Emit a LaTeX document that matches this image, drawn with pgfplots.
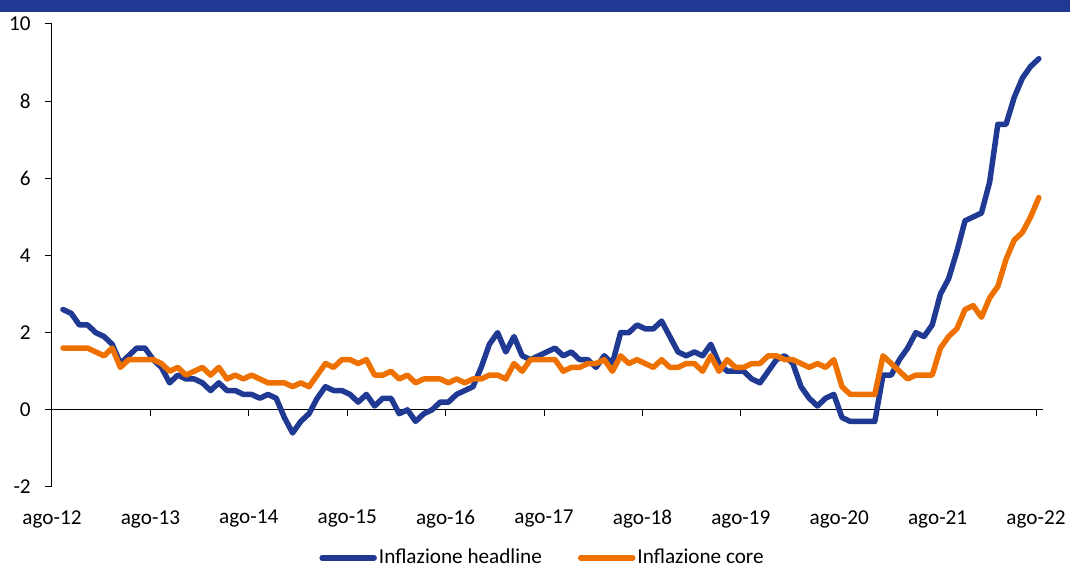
\documentclass[border=0pt]{standalone}
\usepackage{pgfplots}
\pgfplotsset{compat=1.18}
\usepackage{pgfplotstable}
\usepackage{fontspec}
\setmainfont{Carlito}
\definecolor{hblue}{RGB}{32,57,146}
\definecolor{corange}{RGB}{238,113,0}
\newcommand\lblfont{\fontsize{21.2bp}{25bp}\selectfont}

\pgfplotstableread{
i h c
0 2.6 1.6
1 2.5 1.6
2 2.2 1.6
3 2.2 1.6
4 2.0 1.5
5 1.9 1.4
6 1.7 1.6
7 1.2 1.1
8 1.4 1.3
9 1.6 1.3
10 1.6 1.3
11 1.3 1.3
12 1.1 1.2
13 0.7 1.0
14 0.9 1.1
15 0.8 0.9
16 0.8 1.0
17 0.7 1.1
18 0.5 0.9
19 0.7 1.1
20 0.5 0.8
21 0.5 0.9
22 0.4 0.8
23 0.4 0.9
24 0.3 0.8
25 0.4 0.7
26 0.3 0.7
27 -0.2 0.7
28 -0.6 0.6
29 -0.3 0.7
30 -0.1 0.6
31 0.3 0.9
32 0.6 1.2
33 0.5 1.1
34 0.5 1.3
35 0.4 1.3
36 0.2 1.2
37 0.4 1.3
38 0.1 0.9
39 0.3 0.9
40 0.3 1.0
41 -0.1 0.8
42 0.0 0.9
43 -0.3 0.7
44 -0.1 0.8
45 0.0 0.8
46 0.2 0.8
47 0.2 0.7
48 0.4 0.8
49 0.5 0.7
50 0.6 0.8
51 1.1 0.8
52 1.7 0.9
53 2.0 0.9
54 1.5 0.8
55 1.9 1.2
56 1.4 1.0
57 1.3 1.3
58 1.4 1.3
59 1.5 1.3
60 1.6 1.3
61 1.4 1.0
62 1.5 1.1
63 1.3 1.1
64 1.3 1.2
65 1.1 1.2
66 1.4 1.3
67 1.2 1.0
68 2.0 1.4
69 2.0 1.2
70 2.2 1.3
71 2.1 1.2
72 2.1 1.1
73 2.3 1.3
74 1.9 1.1
75 1.5 1.1
76 1.4 1.2
77 1.5 1.2
78 1.4 1.0
79 1.7 1.4
80 1.2 1.0
81 1.0 1.3
82 1.0 1.1
83 1.0 1.1
84 0.8 1.2
85 0.7 1.2
86 1.0 1.4
87 1.3 1.4
88 1.4 1.3
89 1.2 1.3
90 0.6 1.2
91 0.3 1.1
92 0.1 1.2
93 0.3 1.1
94 0.4 1.3
95 -0.2 0.6
96 -0.3 0.4
97 -0.3 0.4
98 -0.3 0.4
99 -0.3 0.4
100 0.9 1.4
101 0.9 1.2
102 1.3 1.0
103 1.6 0.8
104 2.0 0.9
105 1.9 0.9
106 2.2 0.9
107 3.0 1.6
108 3.4 1.9
109 4.1 2.1
110 4.9 2.6
111 5.0 2.7
112 5.1 2.4
113 5.9 2.9
114 7.4 3.2
115 7.4 3.9
116 8.1 4.4
117 8.6 4.6
118 8.9 5.0
119 9.1 5.5
}\datatab

\begin{document}
\lblfont
\begin{tikzpicture}[x=1bp,y=1bp]
\path[use as bounding box] (-52,-81) rectangle (1018,487);
\fill[hblue] (-52,475) rectangle (1018,487);
\begin{axis}[
  at={(0,0)}, anchor=south west,
  width=991bp, height=463bp, scale only axis,
  xmin=0, xmax=120.85, ymin=-2, ymax=10,
  axis lines*=left,
  axis line style={black, line width=1bp},
  x axis line style={draw=none},
  xtick={0,12,24,36,48,60,72,84,96,108,120},
  xticklabels={ago-12,ago-13,ago-14,ago-15,ago-16,ago-17,ago-18,ago-19,ago-20,ago-21,ago-22},
  ytick={-2,0,2,4,6,8,10},
  yticklabels={-2,0,2,4,6,8,10},
  tick align=outside, major tick length=7bp,
  tick style={black, line width=1bp},
  xtick style={draw=none},
  xticklabel style={font=\lblfont, yshift=-9bp},
  yticklabel style={font=\lblfont, xshift=-7bp},
  clip=false,
  legend columns=2,
  legend style={at={(0.495,-0.153)}, anchor=center, draw=none, fill=none,
    font=\lblfont, inner xsep=0pt,
    /tikz/every even column/.append style={column sep=34bp}},
  legend image code/.code={\draw[#1, line cap=round] (0bp,0bp) -- (52bp,0bp);},
]
\draw[black, line width=1bp] (axis cs:0,0) -- (axis cs:120.85,0);
\pgfplotsinvokeforeach{0,12,24,36,48,60,72,84,96,108,120}{
  \draw[black, line width=1bp] (axis cs:#1,0) -- ([yshift=-6bp]axis cs:#1,0);
}
\addplot[hblue, line width=5.5bp, line join=round, line cap=round]
  table[x expr=\thisrow{i}+1.34, y=h] {\datatab};
\addplot[corange, line width=5.5bp, line join=round, line cap=round]
  table[x expr=\thisrow{i}+1.34, y=c] {\datatab};
\legend{Inflazione headline, Inflazione core}
\end{axis}
\end{tikzpicture}
\end{document}
